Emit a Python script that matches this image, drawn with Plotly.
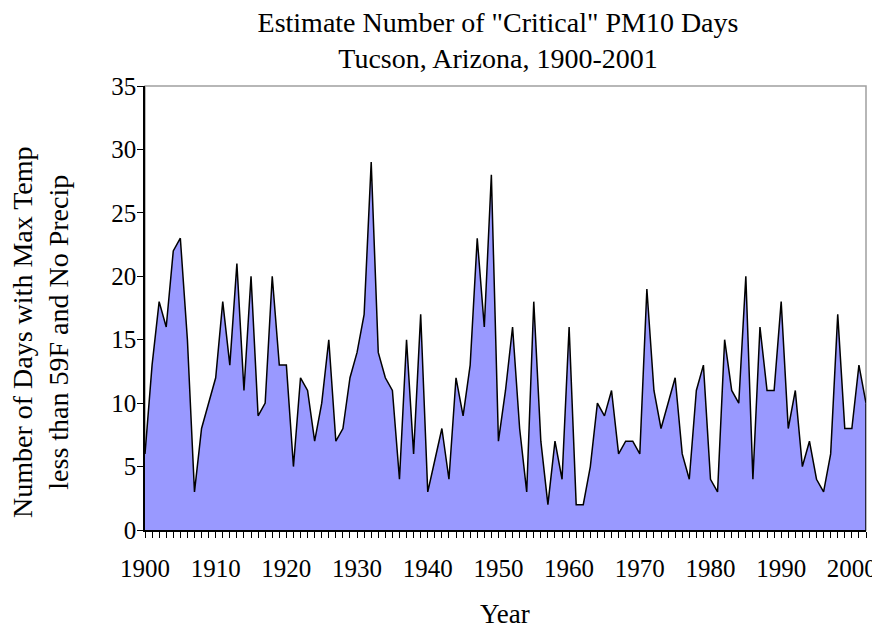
import plotly.graph_objects as go

YEARS = list(range(1900, 2003))
CRITICAL_DAYS = [
    6, 13, 18, 16, 22, 23, 15, 3, 8, 10,
    12, 18, 13, 21, 11, 20, 9, 10, 20, 13,
    13, 5, 12, 11, 7, 10, 15, 7, 8, 12,
    14, 17, 29, 14, 12, 11, 4, 15, 6, 17,
    3, 5.5, 8, 4, 12, 9, 13, 23, 16, 28,
    7, 11, 16, 8, 3, 18, 7, 2, 7, 4,
    16, 2, 2, 5, 10, 9, 11, 6, 7, 7,
    6, 19, 11, 8, 10, 12, 6, 4, 11, 13,
    4, 3, 15, 11, 10, 20, 4, 16, 11, 11,
    18, 8, 11, 5, 7, 4, 3, 6, 17, 8,
    8, 13, 10,
]

FONT = "Liberation Serif, Times New Roman, serif"

# the page body adds an 8px margin, so the figure is a bit smaller than the window
W, H = 872, 622

fig = go.Figure()
fig.add_trace(
    go.Scatter(
        x=YEARS,
        y=CRITICAL_DAYS,
        mode="lines",
        fill="tozeroy",
        fillcolor="#9999ff",
        line=dict(color="black", width=1.5),
        hoverinfo="x+y",
        showlegend=False,
    )
)
# closing edge of the area at the last year
fig.add_trace(
    go.Scatter(
        x=[YEARS[-1], YEARS[-1]],
        y=[CRITICAL_DAYS[-1], 0],
        mode="lines",
        line=dict(color="black", width=1.5),
        hoverinfo="skip",
        showlegend=False,
    )
)

fig.update_layout(
    width=W,
    height=H,
    margin=dict(l=137, r=14, t=78, b=H - 78 - 444),
    paper_bgcolor="white",
    plot_bgcolor="white",
    font=dict(family=FONT, size=24, color="black"),
    title=dict(
        text='Estimate Number of "Critical" PM10 Days<br>Tucson, Arizona, 1900-2001',
        x=490 / W,
        xanchor="center",
        y=1 - 24 / H,
        yanchor="middle",
        font=dict(family=FONT, size=28, color="black"),
    ),
    shapes=[
        dict(
            type="rect",
            xref="paper",
            yref="paper",
            x0=0,
            x1=1,
            y0=0,
            y1=1,
            line=dict(color="#a0a0a0", width=1.5),
            layer="below",
        )
    ],
    annotations=[
        dict(
            text="Number of Days with Max Temp<br>less than 59F and No Precip",
            xref="paper",
            yref="paper",
            x=(40 - 145) / 721,
            y=(530 - 332) / 444,
            xanchor="center",
            yanchor="middle",
            textangle=-90,
            showarrow=False,
            font=dict(family=FONT, size=28, color="black"),
        ),
        dict(
            text="Year",
            xref="paper",
            yref="paper",
            x=(505 - 145) / 721,
            y=(530 - 614) / 444,
            xanchor="center",
            yanchor="middle",
            showarrow=False,
            font=dict(family=FONT, size=27, color="black"),
        ),
    ],
)

fig.update_xaxes(
    range=[1900, 2002],
    tickmode="linear",
    tick0=1900,
    dtick=10,
    ticks="outside",
    ticklen=6,
    tickwidth=1,
    tickcolor="black",
    minor=dict(tick0=1900, dtick=1, ticks="outside", ticklen=6, tickwidth=1, tickcolor="black"),
    ticklabelstandoff=9,
    ticklabeloverflow="allow",
    showline=True,
    linecolor="black",
    linewidth=1.5,
    showgrid=False,
    zeroline=False,
    automargin=False,
    tickangle=0,
    tickfont=dict(family=FONT, size=25),
)
fig.update_yaxes(
    range=[0, 35],
    tickmode="linear",
    tick0=0,
    dtick=5,
    ticks="outside",
    ticklen=6,
    tickwidth=1,
    tickcolor="black",
    ticklabelstandoff=-4,
    showline=True,
    linecolor="black",
    linewidth=1.5,
    showgrid=False,
    zeroline=False,
    automargin=False,
    tickfont=dict(family=FONT, size=25),
)

fig.write_html("out.html")
